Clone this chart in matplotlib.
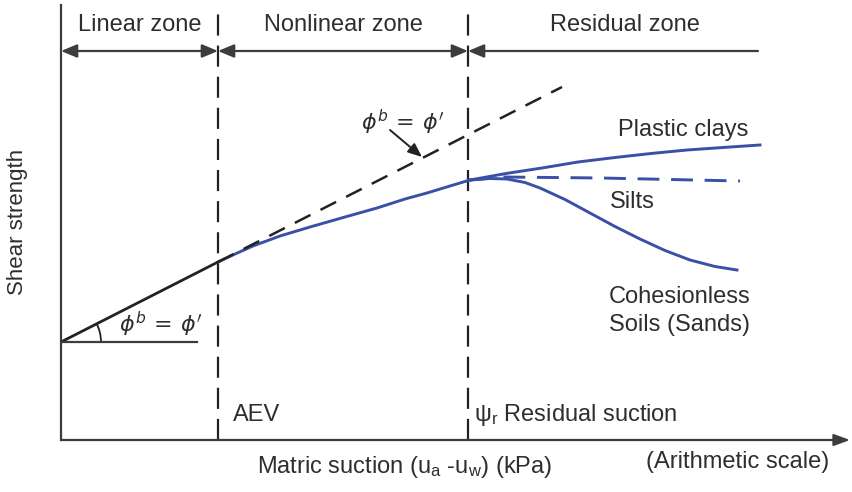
import matplotlib.pyplot as plt
import matplotlib as mpl
from matplotlib.patches import Arc

mpl.rcParams.update({
    "font.family": ["Liberation Sans", "DejaVu Sans"],
    "font.size": 17,
    "mathtext.fontset": "custom",
    "mathtext.rm": "Liberation Sans",
    "mathtext.it": "Liberation Sans:italic",
})

# ---- curve data (suction vs. shear strength, arbitrary units) ----
aev = 157          # air-entry value
psi_r = 407        # residual suction

tangent_x = [0, 157, 501]
tangent_y = [98, 178, 353]

nonlinear_x = [157, 174, 192, 219, 249, 284, 316, 344, 366, 389, 409]
nonlinear_y = [178, 186, 194, 204, 213, 223, 232, 241, 247, 254, 260]

clay_x = [409, 445, 481, 517, 554, 590, 626, 662, 699]
clay_y = [260, 266.5, 272, 278, 282.5, 286.5, 290, 292.5, 295]

silt_x = [409, 442, 540, 679]
silt_y = [260, 263, 262, 259]

sand_x = [409, 429, 446, 464, 479, 504, 529, 554, 579, 604, 629, 654, 676]
sand_y = [260, 261.5, 261, 257.5, 252, 240.5, 227, 213.5, 201, 189.5, 180, 173.5, 170]

zone_names = ["Linear zone", "Nonlinear zone", "Residual zone"]
zone_edges = [0, aev, psi_r, 697]

blue = "#3a4fa6"
ink = "#222222"
grey = "#3c3c3c"
txt = "#2e2e2e"

fig = plt.figure(figsize=(8.53, 4.92), dpi=100)
ax = fig.add_axes([61 / 853, 52 / 492, 789 / 853, 435 / 492])
ax.set_xlim(0, 789)
ax.set_ylim(0, 435)
ax.axis("off")

# axes drawn by hand: plain vertical, arrowed horizontal
ax.plot([0, 0], [0, 435], color=grey, lw=1.6, clip_on=False)
ax.annotate("", xy=(789, 0), xytext=(0, 0),
            arrowprops=dict(arrowstyle="-|>,head_length=0.6,head_width=0.22",
                            mutation_scale=16, color=grey, lw=1.6,
                            shrinkA=0, shrinkB=0), annotation_clip=False)

# zone boundaries
for xv in [aev, psi_r]:
    ax.plot([xv, xv], [0, 432], color=ink, lw=1.6, linestyle=(0, (9.5, 4.5)))

# zone arrows and labels
zy = 389
for i, name in enumerate(zone_names):
    x0, x1 = zone_edges[i], zone_edges[i + 1]
    style = "<|-|>" if i < 2 else "<|-"
    ax.annotate("", xy=(x1, zy), xytext=(x0, zy),
                arrowprops=dict(arrowstyle=style + ",head_length=0.6,head_width=0.25",
                                mutation_scale=16, color=grey, lw=1.6,
                                shrinkA=0, shrinkB=0))
label_x = [79, 282, 564]
for name, lx in zip(zone_names, label_x):
    ax.text(lx, 415, name, ha="center", va="center", color=txt)

# phi^b = phi' tangent: solid in linear zone, dashed beyond AEV
ax.plot(nonlinear_x, nonlinear_y, color=blue, lw=2.1, solid_joinstyle="round")
ax.plot(tangent_x[:2], tangent_y[:2], color=ink, lw=2)
ax.plot(tangent_x[1:], tangent_y[1:], color=ink, lw=1.8, linestyle=(0, (7, 4.5)))

# residual-zone branches
ax.plot(clay_x, clay_y, color=blue, lw=2.1, solid_joinstyle="round")
ax.plot(silt_x, silt_y, color=blue, lw=2.1, linestyle=(0, (7.5, 4)))
ax.plot(sand_x, sand_y, color=blue, lw=2.1, solid_joinstyle="round")

# reference horizontal and angle arc at the origin
ax.plot([0, 136], [98, 98], color=grey, lw=1.6)
ax.add_patch(Arc((0, 98), 80, 80, theta1=0, theta2=27, color=ink, lw=1.3))

phi_txt = r"$\phi^{b}\,=\,\phi^{\prime}$"
ax.text(100, 116, phi_txt, ha="center", va="center", fontsize=16,
        math_fontfamily="dejavusans", color=txt)
ax.text(342, 318, phi_txt, ha="center", va="center", fontsize=16,
        math_fontfamily="dejavusans", color=txt)
ax.annotate("", xy=(361, 283), xytext=(329, 310),
            arrowprops=dict(arrowstyle="-|>,head_length=0.6,head_width=0.25",
                            mutation_scale=14, color=ink, lw=1.4,
                            shrinkA=0, shrinkB=0))

# curve labels
ax.text(622, 310, "Plastic clays", ha="center", va="center", color=txt)
ax.text(571, 238, "Silts", ha="center", va="center", color=txt)
ax.text(619, 129, "Cohesionless\nSoils (Sands)", ha="center", va="center",
        linespacing=1.3, color=txt)
ax.text(172, 25, "AEV", ha="left", va="center", color=txt)
ax.text(413, 25, "ψ$_\\mathrm{r}$ Residual suction", ha="left", va="center",
        color=txt)

# axis titles
ax.text(344, -27, "Matric suction (u$_\\mathrm{a}$ -u$_\\mathrm{w}$) (kPa)",
        ha="center", va="center", color=txt, clip_on=False)
ax.text(677, -22, "(Arithmetic scale)", ha="center", va="center",
        color=txt, clip_on=False)
ax.text(-43, 218, "Shear strength", ha="center", va="center", rotation=90,
        fontsize=16, color=txt, clip_on=False)

fig.savefig("out.png", dpi=100, facecolor="white")
